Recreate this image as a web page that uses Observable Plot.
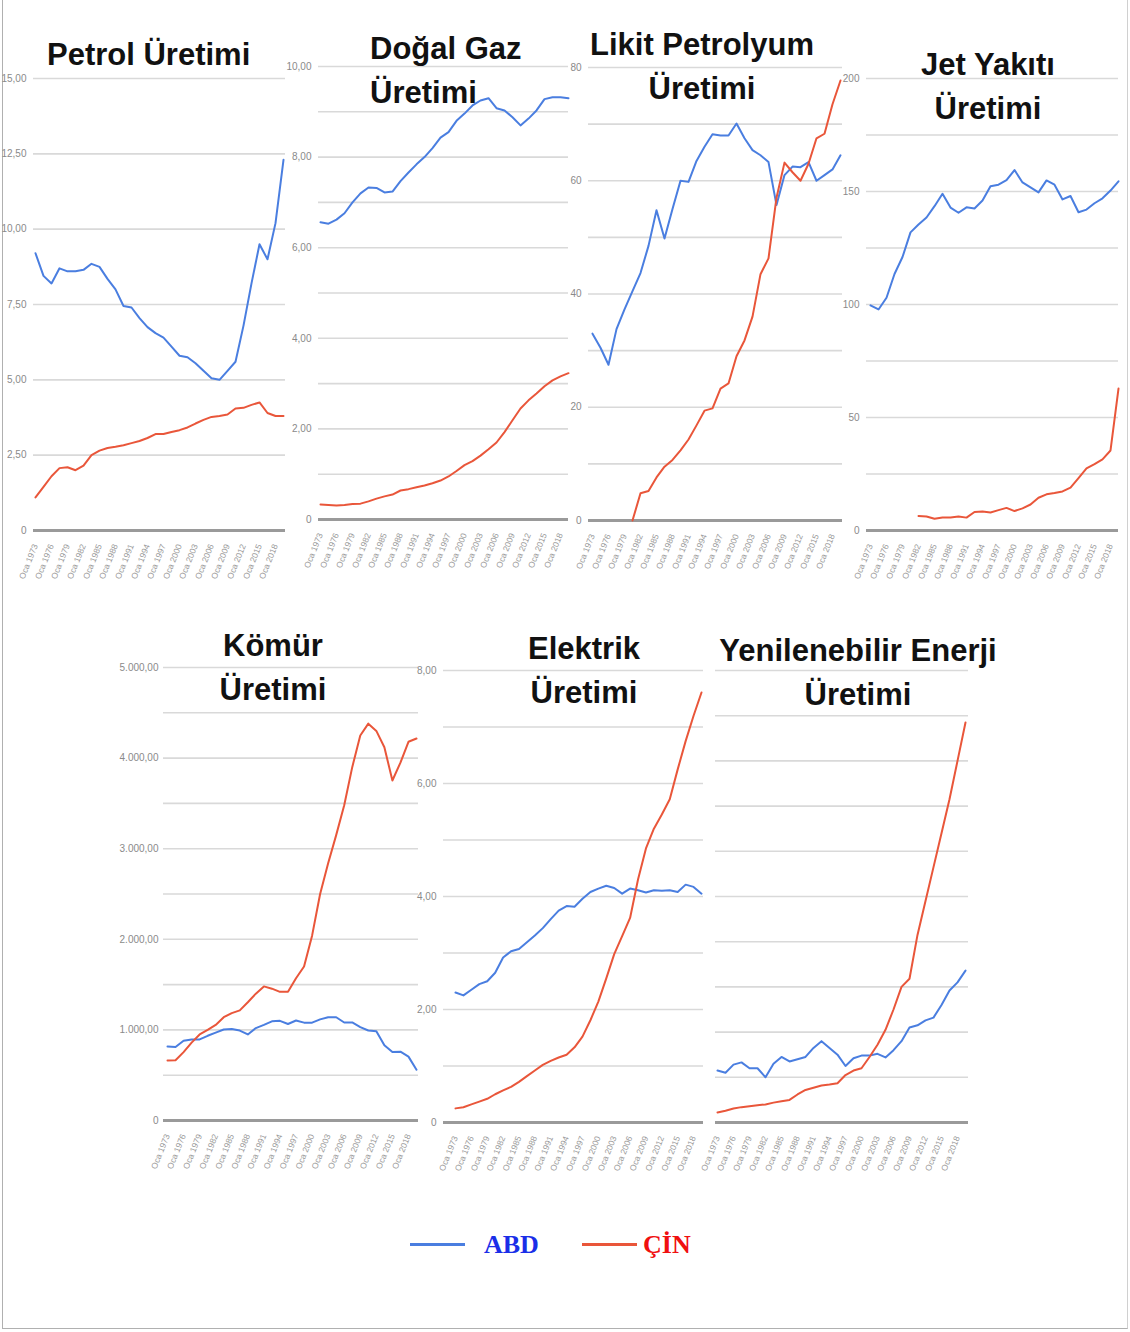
<!DOCTYPE html>
<html>
<head>
<meta charset="utf-8">
<script src="https://cdn.jsdelivr.net/npm/d3@7"></script>
<script src="https://cdn.jsdelivr.net/npm/@observablehq/plot@0.6"></script>
<style>
  body { margin: 0; background: #fff; }
  #page { position: relative; width: 1130px; height: 1332px; overflow: hidden; background: #fff;
          font-family: "Liberation Sans", Arial, sans-serif; }
  .frame { position: absolute; left: 2px; top: -2px; width: 1124px; height: 1330px;
           border-left: 1.5px solid #b0b0b0; border-bottom: 1.5px solid #b0b0b0; border-right: 1px solid #d0d0d0; }
  .panel { position: absolute; }
  .title { position: absolute; font-family: "Liberation Sans", Arial, sans-serif; font-weight: bold;
           font-size: 31px; line-height: 44px; color: #111; white-space: nowrap; z-index: 5; }
  .legend-line { position: absolute; height: 3px; }
  .legend-text { position: absolute; font-family: "Liberation Serif", "Times New Roman", serif; font-weight: bold;
                 font-size: 26px; line-height: 30px; white-space: nowrap; }
</style>
</head>
<body>
<div id="page">
  <div class="frame"></div>
</div>
<script>
// ---------- DATA ----------
const yillar = [1973, 1974.5, 1976, 1977.5, 1979, 1980.5, 1982, 1983.5, 1985, 1986.5,
                1988, 1989.5, 1991, 1992.5, 1994, 1995.5, 1997, 1998.5, 2000, 2001.5,
                2003, 2004.5, 2006, 2007.5, 2009, 2010.5, 2012, 2013.5, 2015, 2016.5,
                2018, 2019.5];

const xTickYillari = [1973, 1976, 1979, 1982, 1985, 1988, 1991, 1994, 1997, 2000, 2003, 2006, 2009, 2012, 2015, 2018];
const xTickAy = "Oca";

const seriler = ["ABD", "ÇİN"];

const petrolABD = [9.2, 8.45, 8.2, 8.7, 8.6, 8.6, 8.65, 8.85, 8.75, 8.35,
                   8.0, 7.45, 7.4, 7.05, 6.75, 6.55, 6.4, 6.1, 5.8, 5.75,
                   5.55, 5.3, 5.05, 5.0, 5.3, 5.6, 6.8, 8.2, 9.5, 9.0,
                   10.2, 12.3];
const petrolCIN = [1.1, 1.45, 1.8, 2.07, 2.1, 2.0, 2.15, 2.5, 2.65, 2.74,
                   2.78, 2.83, 2.9, 2.97, 3.07, 3.2, 3.2, 3.27, 3.33, 3.42,
                   3.55, 3.67, 3.77, 3.8, 3.85, 4.05, 4.07, 4.17, 4.25, 3.9,
                   3.8, 3.8];

const gazABD = [6.56, 6.53, 6.62, 6.76, 7.0, 7.2, 7.33, 7.32, 7.22, 7.24,
                7.47, 7.66, 7.84, 8.0, 8.2, 8.43, 8.55, 8.8, 8.96, 9.14,
                9.25, 9.3, 9.08, 9.03, 8.88, 8.7, 8.85, 9.03, 9.28, 9.32,
                9.32, 9.3];
const gazCIN = [0.33, 0.32, 0.31, 0.32, 0.34, 0.35, 0.4, 0.46, 0.51, 0.55,
                0.64, 0.67, 0.71, 0.75, 0.8, 0.86, 0.95, 1.07, 1.2, 1.29,
                1.41, 1.55, 1.7, 1.93, 2.19, 2.45, 2.63, 2.78, 2.94, 3.07,
                3.16, 3.23];

const likitABD = [33.0, 30.5, 27.5, 33.8, 37.3, 40.5, 43.7, 48.5, 54.8, 49.8,
                  55, 60, 59.8, 63.5, 66, 68.2, 68, 68, 70.1, 67.5,
                  65.4, 64.5, 63.3, 55.7, 61, 62.5, 62.4, 63.3, 60, 61,
                  62, 64.5];
const likitCIN = [null, null, null, null, null, 0, 4.8, 5.2, 7.6, 9.5,
                  10.7, 12.4, 14.3, 16.8, 19.4, 19.8, 23.3, 24.2, 29.0, 31.8,
                  36.0, 43.5, 46.3, 57.0, 63.2, 61.5, 60.0, 63.0, 67.5, 68.3,
                  73.5, 77.7];

const jetABD = [99.6, 97.8, 103, 113.5, 121, 131.9, 135.4, 138.5, 143.5, 149,
                142.9, 140.6, 143, 142.5, 146, 152.3, 153, 155, 159.5, 154,
                151.8, 149.6, 154.9, 153, 146.5, 148, 140.8, 142, 144.8, 147,
                150.4, 154.5];
const jetCIN = [null, null, null, null, null, null, 6.4, 6.2, 5.2, 5.8,
                5.8, 6.2, 5.7, 8.2, 8.4, 8.0, 9.0, 10.0, 8.6, 9.8,
                11.5, 14.5, 16.0, 16.6, 17.3, 19.0, 23.2, 27.5, 29.4, 31.5,
                35.4, 62.8];

const komurABD = [817, 811, 880, 895, 895, 935, 970, 1005, 1010, 993,
                  950, 1020, 1055, 1095, 1100, 1065, 1104, 1080, 1080, 1116,
                  1140, 1140, 1082, 1082, 1030, 993, 985, 830, 755, 760,
                  705, 560];
const komurCIN = [662, 665, 755, 860, 950, 1000, 1055, 1140, 1185, 1215,
                  1305, 1400, 1480, 1455, 1420, 1420, 1570, 1700, 2040, 2500,
                  2840, 3150, 3480, 3900, 4250, 4380, 4300, 4120, 3753, 3950,
                  4180, 4216];

const elektrikABD = [2.30, 2.25, 2.35, 2.45, 2.5, 2.65, 2.92, 3.03, 3.07, 3.19,
                     3.31, 3.44, 3.6, 3.75, 3.83, 3.82, 3.96, 4.08, 4.14, 4.19,
                     4.15, 4.05, 4.14, 4.11, 4.07, 4.11, 4.1, 4.11, 4.08, 4.21,
                     4.17, 4.05];
const elektrikCIN = [0.25, 0.27, 0.32, 0.37, 0.42, 0.5, 0.57, 0.63, 0.72, 0.82,
                     0.92, 1.02, 1.09, 1.15, 1.2, 1.33, 1.52, 1.81, 2.14, 2.55,
                     2.98, 3.3, 3.62, 4.3, 4.85, 5.2, 5.45, 5.72, 6.25, 6.75,
                     7.2, 7.61];

const yenilenebilirABD = [1.15, 1.1, 1.28, 1.33, 1.2, 1.2, 1.0, 1.3, 1.45, 1.35,
                          1.4, 1.45, 1.65, 1.8, 1.65, 1.5, 1.25, 1.42, 1.48, 1.48,
                          1.52, 1.44, 1.6, 1.8, 2.1, 2.15, 2.26, 2.32, 2.6, 2.92,
                          3.1, 3.36];
const yenilenebilirCIN = [0.22, 0.26, 0.31, 0.34, 0.36, 0.38, 0.4, 0.44, 0.47, 0.5,
                          0.62, 0.72, 0.77, 0.82, 0.84, 0.87, 1.05, 1.15, 1.2, 1.45,
                          1.72, 2.05, 2.5, 3.0, 3.18, 4.15, 4.9, 5.65, 6.4, 7.15,
                          8.0, 8.85];

// y-axis ticks and labels
const petrolYTick = [0, 2.5, 5, 7.5, 10, 12.5, 15];
const petrolYEtiket = ["0", "2,50", "5,00", "7,50", "10,00", "12,50", "15,00"];
const gazYTick = [0, 2, 4, 6, 8, 10];
const gazYEtiket = ["0", "2,00", "4,00", "6,00", "8,00", "10,00"];
const likitYTick = [0, 20, 40, 60, 80];
const likitYEtiket = ["0", "20", "40", "60", "80"];
const jetYTick = [0, 50, 100, 150, 200];
const jetYEtiket = ["0", "50", "100", "150", "200"];
const komurYTick = [0, 1000, 2000, 3000, 4000, 5000];
const komurYEtiket = ["0", "1.000,00", "2.000,00", "3.000,00", "4.000,00", "5.000,00"];
const elektrikYTick = [0, 2, 4, 6, 8];
const elektrikYEtiket = ["0", "2,00", "4,00", "6,00", "8,00"];
const yenilenebilirYTick = [];
const yenilenebilirYEtiket = [];

// ---------- COLORS ----------
const renkABD = "#4a7ee0";
const renkCIN = "#e9563a";

// ---------- PANELS ----------
const page = document.getElementById("page");

function panel(cfg) {
  const [fx0, fy0, fx1, fy1] = cfg.frame;
  const mL = 60, mR = 4, mT = 4, mB = 70;
  const w = fx1 - fx0 + mL + mR, h = fy1 - fy0 + mT + mB;
  const rows = yillar.map((y, i) => ({yil: y, abd: cfg.abd[i], cin: cfg.cin[i]}));
  const labelMap = new Map(cfg.yTick.map((t, i) => [t, cfg.yEtiket[i]]));
  const grid = d3.range(cfg.gridStep, cfg.yMax + cfg.gridStep / 2, cfg.gridStep);
  const marks = [
    Plot.ruleY(grid, {stroke: "#d9d9d9", strokeWidth: 1.6}),
    Plot.ruleY([0], {stroke: "#9a9a9a", strokeWidth: 3}),
    Plot.axisX(xTickYillari, {tickSize: 0, tickPadding: 14, tickRotate: -68, fontSize: 8.5,
      fill: "#9a9a9a", tickFormat: d => xTickAy + " " + d, label: null}),
    Plot.line(rows, {x: "yil", y: "abd", stroke: renkABD, strokeWidth: 2}),
    Plot.line(rows, {x: "yil", y: "cin", stroke: renkCIN, strokeWidth: 2})
  ];
  if (cfg.yTick.length) {
    marks.push(Plot.axisY(cfg.yTick, {tickSize: 0, tickPadding: cfg.pad ?? 7, fontSize: 10,
      fill: "#8a8a8a", tickFormat: d => labelMap.get(d), label: null}));
  }
  const svg = Plot.plot({
    width: w, height: h,
    marginLeft: mL, marginRight: mR, marginTop: mT, marginBottom: mB,
    style: {background: "transparent", fontFamily: "'Liberation Sans Narrow', 'Liberation Sans', sans-serif"},
    x: {domain: [1973, 2019.5], insetLeft: cfg.inset[0], insetRight: cfg.inset[1], axis: null},
    y: {domain: [0, cfg.yMax], axis: null},
    marks
  });
  const div = document.createElement("div");
  div.className = "panel";
  div.style.left = (fx0 - mL) + "px";
  div.style.top = (fy0 - mT) + "px";
  div.appendChild(svg);
  page.appendChild(div);
}

panel({frame: [33, 78, 285, 530], inset: [2, 2], yMax: 15, gridStep: 2.5,
       yTick: petrolYTick, yEtiket: petrolYEtiket, abd: petrolABD, cin: petrolCIN});
panel({frame: [318, 66, 568, 519], inset: [2, 0], yMax: 10, gridStep: 1,
       yTick: gazYTick, yEtiket: gazYEtiket, abd: gazABD, cin: gazCIN});
panel({frame: [588, 67, 842, 520], inset: [4, 2], yMax: 80, gridStep: 10,
       yTick: likitYTick, yEtiket: likitYEtiket, abd: likitABD, cin: likitCIN});
panel({frame: [866, 78, 1118, 530], inset: [4, 0], yMax: 200, gridStep: 25,
       yTick: jetYTick, yEtiket: jetYEtiket, abd: jetABD, cin: jetCIN});
panel({frame: [163, 667, 418, 1120], inset: [4, 2], yMax: 5000, gridStep: 500,
       yTick: komurYTick, yEtiket: komurYEtiket, abd: komurABD, cin: komurCIN, pad: 5});
panel({frame: [443, 670, 703, 1122], inset: [12, 2], yMax: 8, gridStep: 1,
       yTick: elektrikYTick, yEtiket: elektrikYEtiket, abd: elektrikABD, cin: elektrikCIN});
panel({frame: [715, 670, 968, 1122], inset: [2, 3], yMax: 10, gridStep: 1,
       yTick: yenilenebilirYTick, yEtiket: yenilenebilirYEtiket, abd: yenilenebilirABD, cin: yenilenebilirCIN});

// ---------- TITLES ----------
const basliklar = [
  {metin: ["Petrol Üretimi"], left: 47, top: 33, align: "left"},
  {metin: ["Doğal Gaz", "Üretimi"], left: 370, top: 27, align: "left"},
  {metin: ["Likit Petrolyum", "Üretimi"], center: 702, top: 23},
  {metin: ["Jet Yakıtı", "Üretimi"], center: 988, top: 43},
  {metin: ["Kömür", "Üretimi"], center: 273, top: 624},
  {metin: ["Elektrik", "Üretimi"], center: 584, top: 627},
  {metin: ["Yenilenebilir Enerji", "Üretimi"], center: 858, top: 629}
];
for (const b of basliklar) {
  const d = document.createElement("div");
  d.className = "title";
  d.innerHTML = b.metin.join("<br>");
  d.style.top = b.top + "px";
  if (b.center !== undefined) {
    d.style.left = (b.center - 200) + "px";
    d.style.width = "400px";
    d.style.textAlign = "center";
  } else {
    d.style.left = b.left + "px";
  }
  page.appendChild(d);
}

// ---------- LEGEND ----------
const legend = [
  {ad: seriler[0], renk: renkABD, yazi: "#1a2ee8", x1: 410, x2: 465, tx: 484},
  {ad: seriler[1], renk: renkCIN, yazi: "#f01010", x1: 582, x2: 637, tx: 643}
];
for (const l of legend) {
  const line = document.createElement("div");
  line.className = "legend-line";
  line.style.left = l.x1 + "px";
  line.style.width = (l.x2 - l.x1) + "px";
  line.style.top = "1243px";
  line.style.background = l.renk;
  page.appendChild(line);
  const t = document.createElement("div");
  t.className = "legend-text";
  t.textContent = l.ad;
  t.style.left = l.tx + "px";
  t.style.top = "1230px";
  t.style.color = l.yazi;
  page.appendChild(t);
}
</script>
</body>
</html>
